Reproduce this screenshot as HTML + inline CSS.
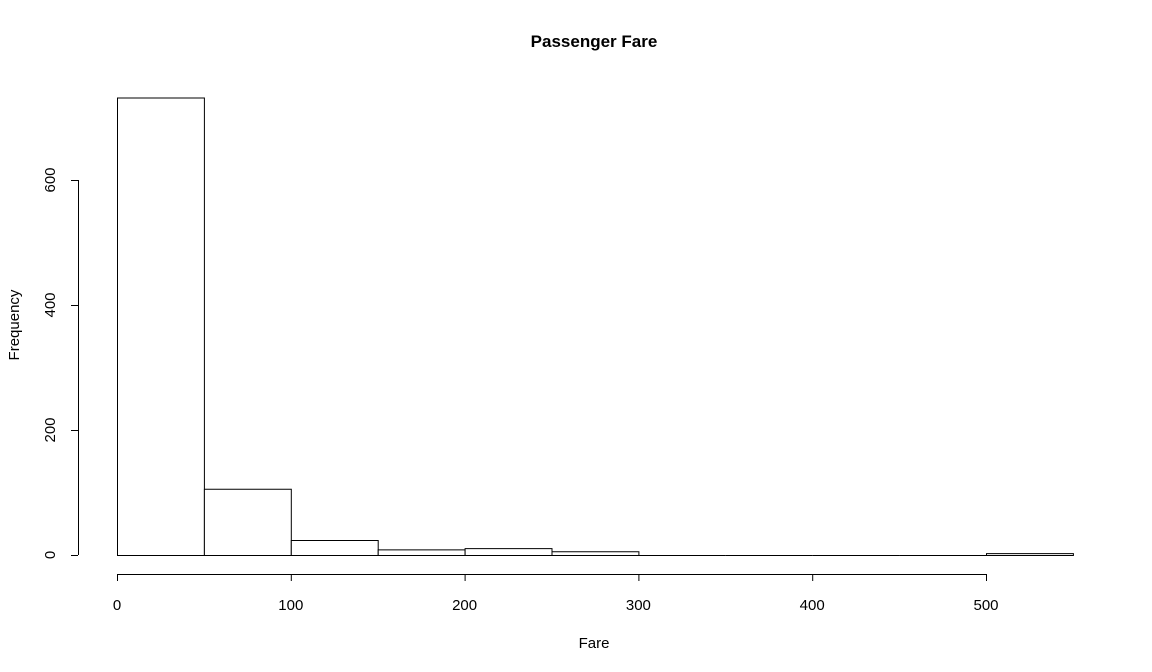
<!DOCTYPE html>
<html><head><meta charset="utf-8"><style>
html,body{margin:0;padding:0;background:#fff;}
svg{display:block;font-family:"Liberation Sans",Arial,sans-serif;}
</style></head><body>
<svg id="chart" width="1152" height="672">
<text x="594" y="47" text-anchor="middle" font-size="17" font-weight="bold">Passenger Fare</text>
<text x="594" y="648" text-anchor="middle" font-size="15">Fare</text>
<text transform="translate(19,325) rotate(-90)" text-anchor="middle" font-size="15">Frequency</text>
<g id="bars"></g><g id="xaxis"></g><g id="yaxis"></g>
</svg>
<script>
const binStarts=[0,50,100,150,200,250,300,350,400,450,500];
const binWidth=50;
const counts=[732,106,24,9,11,6,0,0,0,0,3];
const xTicks=[0,100,200,300,400,500];
const yTicks=[0,200,400,600];
const NS="http://www.w3.org/2000/svg";
function sx(v){return 117+v*(986-117)/500;}
function sy(v){return 555-v*(375/600);}
function mk(t,a,p){const e=document.createElementNS(NS,t);for(const k in a)e.setAttribute(k,a[k]);p.appendChild(e);return e;}
const bars=document.getElementById('bars');
binStarts.forEach((b,i)=>{
 const x0=sx(b)+0.5,x1=sx(b+binWidth)+0.5,y=sy(counts[i])+0.5,y0=sy(0)+0.5;
 const r=mk('path',{d:'M'+x0+','+y0+'L'+x0+','+y+'L'+x1+','+y+'L'+x1+','+y0+'Z',fill:'#fff',stroke:'#000','stroke-width':1},bars);
 
 
});
const xa=document.getElementById('xaxis');
const xl=mk('line',{x1:sx(xTicks[0]),x2:sx(xTicks[xTicks.length-1]),y1:574.5,y2:574.5,stroke:'#000'},xa);


xTicks.forEach(t=>{
 mk('line',{x1:sx(t)+0.5,x2:sx(t)+0.5,y1:574,y2:581,stroke:'#000'},xa);
 const tx=mk('text',{x:sx(t),y:610,'text-anchor':'middle','font-size':15},xa);
 tx.textContent=t;
 
 
});
const ya=document.getElementById('yaxis');
const yl=mk('line',{x1:78.5,x2:78.5,y1:sy(yTicks[0]),y2:sy(yTicks[yTicks.length-1]),stroke:'#000'},ya);


yTicks.forEach(t=>{
 mk('line',{x1:71,x2:78,y1:sy(t)+0.5,y2:sy(t)+0.5,stroke:'#000'},ya);
 const tx=mk('text',{'text-anchor':'middle','font-size':15,transform:'translate(55,'+sy(t)+') rotate(-90)'},ya);
 tx.textContent=t;
 
 
});
</script>
</body></html>
